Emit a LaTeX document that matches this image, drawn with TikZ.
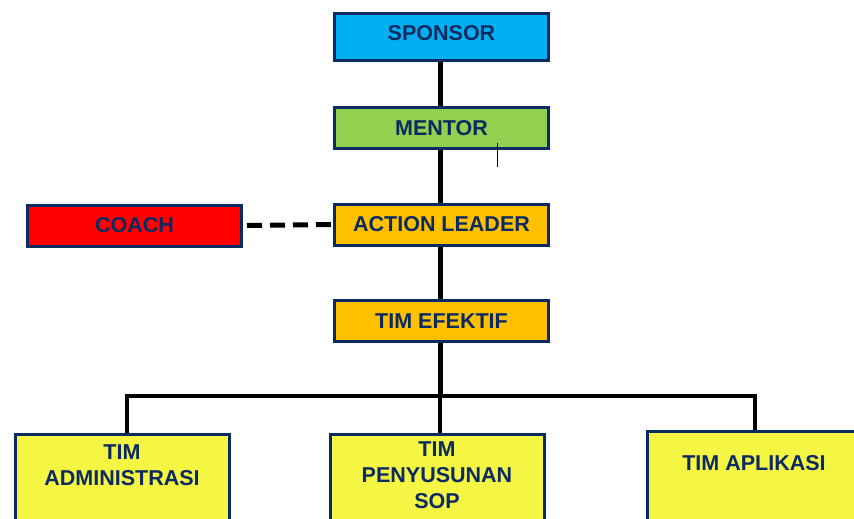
\documentclass[tikz,border=0pt]{standalone}
\usepackage{fontspec}
\setmainfont{Liberation Sans}
\usepackage{xcolor}
\usepackage{tikz}
\usetikzlibrary{positioning,calc}
\definecolor{navy}{HTML}{0B2A62}
\definecolor{sponsorblue}{HTML}{00B0F0}
\definecolor{mentorgreen}{HTML}{92D050}
\definecolor{leaderorange}{HTML}{FFC000}
\definecolor{coachred}{HTML}{FF0000}
\definecolor{timyellow}{HTML}{F5F543}

\begin{document}
\begin{tikzpicture}[x=1pt,y=-1pt,
	box/.style={draw=navy,line width=3pt,rectangle,inner sep=0pt,
		minimum width=214pt,minimum height=41pt,text=navy,
		font=\fontsize{21.5}{26}\selectfont\bfseries},
	timbox/.style={box,fill=timyellow,minimum height=110pt},
	link/.style={line width=5pt,black}]
		\useasboundingbox (0,0) rectangle (854,519);
		\clip (0,0) rectangle (854,519);
		\node[box,fill=sponsorblue,minimum height=47pt] (sponsor) at (441.5,37) {};
		\node[text=navy,font=\fontsize{21.5}{26}\selectfont\bfseries] (sponsortxt) at (441.5,33) {SPONSOR};
		\node[box,fill=mentorgreen] (mentor) at (441.5,128) {MENTOR};
		\node[box,fill=leaderorange] (leader) at (441.5,224.5) {ACTION LEADER};
		\node[box,fill=coachred] (coach) at (134.5,225.5) {COACH};
		\node[box,fill=leaderorange] (efektif) at (441.5,321) {TIM EFEKTIF};
		\node[timbox,anchor=north] (adm) at (122,432.5) {};
		\node[timbox,anchor=north] (peny) at (437,432.5) {};
		\node[timbox,anchor=north,minimum width=220pt] (apl) at (757,429.5) {};
		\node[text=navy,align=center,font=\fontsize{21.5}{26}\selectfont\bfseries] (admtxt) at (122,465) {TIM\\ADMINISTRASI};
		\node[text=navy,align=center,font=\fontsize{21.5}{26}\selectfont\bfseries] (penytxt) at (437,475) {TIM\\PENYUSUNAN\\SOP};
		\node[text=navy,align=center,font=\fontsize{21.5}{26}\selectfont\bfseries] (apltxt) at (754,463) {TIM APLIKASI};
		\coordinate (bus) at (440,396);
		\draw[link] (sponsor.south -| bus) -- (mentor.north -| bus);
		\draw[link] (mentor.south -| bus) -- (leader.north -| bus);
		\draw[link] (leader.south -| bus) -- (efektif.north -| bus);
		\draw[link] (efektif.south -| bus) -- (bus);
		\draw[link,dash pattern=on 15pt off 8pt] ([xshift=4pt]coach.east) -- ([xshift=-2pt]leader.west);
		\draw[line width=4pt,black] ([xshift=5pt]adm.north) |- (bus) -| (apl.north -| 755,0);
		\draw[line width=4pt,black] (bus) -- (peny.north -| bus);
		\draw[line width=1pt,black] (497,143) -- (497,167);
	\end{tikzpicture}
\end{document}
